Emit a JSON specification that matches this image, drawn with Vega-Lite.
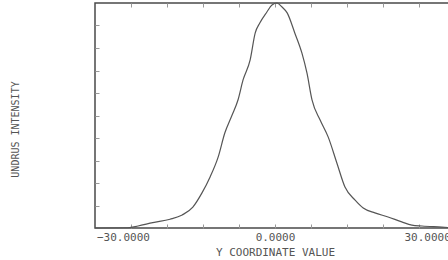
{
  "$schema": "https://vega.github.io/schema/vega-lite/v6.json",
  "autosize": "none",
  "padding": {"left": 95, "top": 3, "right": 0, "bottom": 32},
  "width": 360,
  "height": 225,
  "background": "white",
  "config": {"view": {"stroke": "#4a4a4a", "strokeWidth": 1.5}},
  "data": {"values": [
    {"x": -35.5, "y": 0.0},
    {"x": -34.5, "y": 0.0},
    {"x": -29.0, "y": 0.001},
    {"x": -27.0, "y": 0.009},
    {"x": -24.1, "y": 0.024},
    {"x": -20.7, "y": 0.039},
    {"x": -18.3, "y": 0.058},
    {"x": -16.2, "y": 0.093},
    {"x": -14.4, "y": 0.156},
    {"x": -12.8, "y": 0.227},
    {"x": -11.2, "y": 0.316},
    {"x": -9.9, "y": 0.422},
    {"x": -8.5, "y": 0.5},
    {"x": -7.3, "y": 0.569},
    {"x": -6.3, "y": 0.658},
    {"x": -4.9, "y": 0.747},
    {"x": -3.9, "y": 0.867},
    {"x": -3.0, "y": 0.911},
    {"x": -1.6, "y": 0.96},
    {"x": -0.6, "y": 0.991},
    {"x": 0.4, "y": 1.0},
    {"x": 1.4, "y": 0.982},
    {"x": 2.4, "y": 0.956},
    {"x": 3.9, "y": 0.867},
    {"x": 5.3, "y": 0.778},
    {"x": 6.3, "y": 0.689},
    {"x": 7.3, "y": 0.569},
    {"x": 8.9, "y": 0.48},
    {"x": 10.5, "y": 0.404},
    {"x": 12.2, "y": 0.289},
    {"x": 13.8, "y": 0.182},
    {"x": 15.8, "y": 0.124},
    {"x": 17.4, "y": 0.089},
    {"x": 19.7, "y": 0.067},
    {"x": 22.3, "y": 0.049},
    {"x": 25.0, "y": 0.027},
    {"x": 27.0, "y": 0.013},
    {"x": 29.0, "y": 0.009},
    {"x": 32.9, "y": 0.004},
    {"x": 35.5, "y": 0.0}
  ]},
  "layer": [
    {
      "mark": {"type": "line", "color": "#555555", "strokeWidth": 1.2, "interpolate": "monotone"},
      "encoding": {
        "x": {
          "field": "x", "type": "quantitative",
          "scale": {"domain": [-35.5, 35.5], "nice": false, "zero": false},
          "axis": {
            "orient": "bottom",
            "domain": false,
            "grid": false,
            "values": [-30, -28.4, -21.3, -14.2, -7.1, 0, 7.1, 14.2, 21.3, 28.4, 30],
            "labelExpr": "(datum.value == -30 || datum.value == 0 || datum.value == 30) ? format(datum.value, '.4f') : ''",
            "tickSize": -4,
            "tickColor": "#999999",
            "tickOpacity": {"condition": {"test": "datum.value == -30 || datum.value == 30", "value": 0}, "value": 1},
            "labelFont": "DejaVu Sans Mono",
            "labelFontSize": 11,
            "labelColor": "#555555",
            "labelPadding": 7,
            "labelFlush": false,
            "labelOverlap": false,
            "title": "Y COORDINATE VALUE",
            "titleFont": "DejaVu Sans Mono",
            "titleFontSize": 11,
            "titleFontWeight": "normal",
            "titleColor": "#555555",
            "titlePadding": 4
          }
        },
        "y": {
          "field": "y", "type": "quantitative",
          "scale": {"domain": [0, 1], "nice": false},
          "axis": {
            "domain": false,
            "grid": false,
            "values": [0.1, 0.2, 0.3, 0.4, 0.5, 0.6, 0.7, 0.8, 0.9],
            "labels": false,
            "tickSize": -4,
            "tickColor": "#999999",
            "title": "UNDRUS INTENSITY",
            "titleFont": "DejaVu Sans Mono",
            "titleFontSize": 10,
            "titleFontWeight": "normal",
            "titleColor": "#555555",
            "titleX": -75,
            "titleY": 126
          }
        }
      }
    },
    {
      "mark": {"type": "rule", "strokeOpacity": 0},
      "encoding": {
        "x": {
          "field": "x", "type": "quantitative",
          "axis": {
            "orient": "top",
            "domain": false,
            "grid": false,
            "labels": false,
            "values": [-28.4, -21.3, -14.2, -7.1, 0, 7.1, 14.2, 21.3, 28.4],
            "tickSize": -4,
            "tickColor": "#999999",
            "title": null
          }
        }
      }
    }
  ],
  "resolve": {"axis": {"x": "independent"}}
}
